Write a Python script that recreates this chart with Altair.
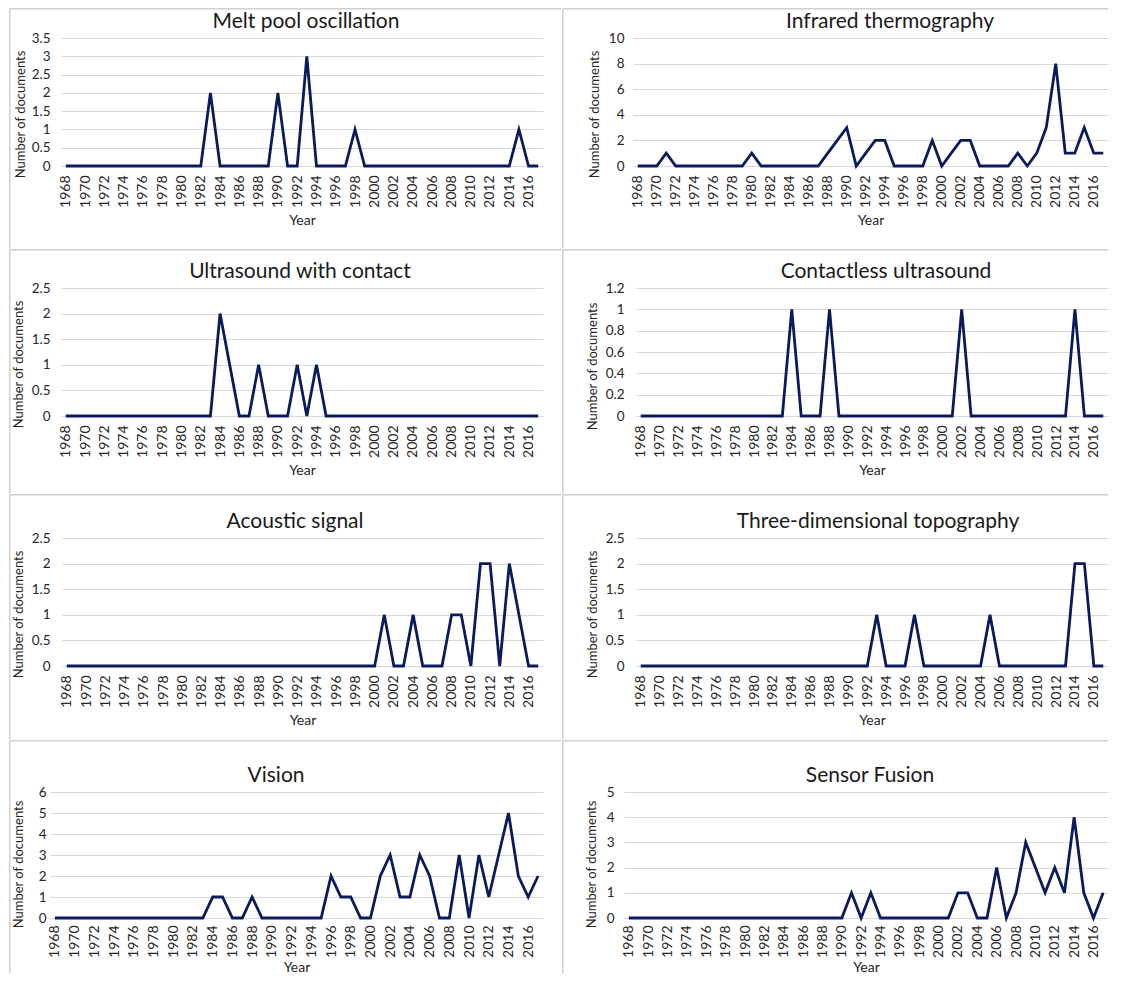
import altair as alt
import pandas as pd

# ---------------- data ----------------
YEARS = list(range(1968, 2018))
X_TICKS = list(range(1968, 2017, 2))

MELT_POOL = [0, 0, 0, 0, 0, 0, 0, 0, 0, 0,
             0, 0, 0, 0, 0, 2, 0, 0, 0, 0,
             0, 0, 2, 0, 0, 3, 0, 0, 0, 0,
             1, 0, 0, 0, 0, 0, 0, 0, 0, 0,
             0, 0, 0, 0, 0, 0, 0, 1, 0, 0]
INFRARED = [0, 0, 0, 1, 0, 0, 0, 0, 0, 0,
            0, 0, 1, 0, 0, 0, 0, 0, 0, 0,
            1, 2, 3, 0, 1, 2, 2, 0, 0, 0,
            0, 2, 0, 1, 2, 2, 0, 0, 0, 0,
            1, 0, 1, 3, 8, 1, 1, 3, 1, 1]
US_CONTACT = [0, 0, 0, 0, 0, 0, 0, 0, 0, 0,
              0, 0, 0, 0, 0, 0, 2, 1, 0, 0,
              1, 0, 0, 0, 1, 0, 1, 0, 0, 0,
              0, 0, 0, 0, 0, 0, 0, 0, 0, 0,
              0, 0, 0, 0, 0, 0, 0, 0, 0, 0]
US_CONTACTLESS = [0, 0, 0, 0, 0, 0, 0, 0, 0, 0,
                  0, 0, 0, 0, 0, 0, 1, 0, 0, 0,
                  1, 0, 0, 0, 0, 0, 0, 0, 0, 0,
                  0, 0, 0, 0, 1, 0, 0, 0, 0, 0,
                  0, 0, 0, 0, 0, 0, 1, 0, 0, 0]
ACOUSTIC = [0, 0, 0, 0, 0, 0, 0, 0, 0, 0,
            0, 0, 0, 0, 0, 0, 0, 0, 0, 0,
            0, 0, 0, 0, 0, 0, 0, 0, 0, 0,
            0, 0, 0, 1, 0, 0, 1, 0, 0, 0,
            1, 1, 0, 2, 2, 0, 2, 1, 0, 0]
TOPO_3D = [0, 0, 0, 0, 0, 0, 0, 0, 0, 0,
           0, 0, 0, 0, 0, 0, 0, 0, 0, 0,
           0, 0, 0, 0, 0, 1, 0, 0, 0, 1,
           0, 0, 0, 0, 0, 0, 0, 1, 0, 0,
           0, 0, 0, 0, 0, 0, 2, 2, 0, 0]
VISION = [0, 0, 0, 0, 0, 0, 0, 0, 0, 0,
          0, 0, 0, 0, 0, 0, 1, 1, 0, 0,
          1, 0, 0, 0, 0, 0, 0, 0, 2, 1,
          1, 0, 0, 2, 3, 1, 1, 3, 2, 0,
          0, 3, 0, 3, 1, 3, 5, 2, 1, 2]
SENSOR_FUSION = [0, 0, 0, 0, 0, 0, 0, 0, 0, 0,
                 0, 0, 0, 0, 0, 0, 0, 0, 0, 0,
                 0, 0, 0, 1, 0, 1, 0, 0, 0, 0,
                 0, 0, 0, 0, 1, 1, 0, 0, 2, 0,
                 1, 3, 2, 1, 2, 1, 4, 1, 0, 1]

Y_TICKS_MELT = [0, 0.5, 1, 1.5, 2, 2.5, 3, 3.5]
Y_TICKS_INFRARED = [0, 2, 4, 6, 8, 10]
Y_TICKS_2_5 = [0, 0.5, 1, 1.5, 2, 2.5]
Y_TICKS_1_2 = [0, 0.2, 0.4, 0.6, 0.8, 1, 1.2]
Y_TICKS_VISION = [0, 1, 2, 3, 4, 5, 6]
Y_TICKS_FUSION = [0, 1, 2, 3, 4, 5]

TITLES = ["Melt pool oscillation", "Infrared thermography",
          "Ultrasound with contact", "Contactless ultrasound",
          "Acoustic signal", "Three-dimensional topography",
          "Vision", "Sensor Fusion"]
SERIES = [MELT_POOL, INFRARED, US_CONTACT, US_CONTACTLESS,
          ACOUSTIC, TOPO_3D, VISION, SENSOR_FUSION]
YTICKS = [Y_TICKS_MELT, Y_TICKS_INFRARED, Y_TICKS_2_5, Y_TICKS_1_2,
          Y_TICKS_2_5, Y_TICKS_2_5, Y_TICKS_VISION, Y_TICKS_FUSION]

# ---------------- style / layout ----------------
FONT = "Lato"
NAVY = "#0b1a5c"
GRID = "#d9d9d9"
BORDER = "#d0d0d0"
TEXT = "#262626"

# per panel: L (plot left in box), W (plot width), T (plot top in box),
# H (plot height), title centre x rel. plot, y-title x / y rel. plot,
# y label padding, x label padding, x-title y, box width, box height
LAYOUT = [
    dict(L=52, W=482, T=30, H=128, tcx=245, ytx=-41, yty=76, lp=11, xlp=9, xty=54, BW=553, BH=241),
    dict(L=71, W=475, T=30, H=128, tcx=257, ytx=-39, yty=76, lp=9, xlp=9, xty=54, BW=547, BH=241),
    dict(L=52, W=482, T=39, H=128, tcx=239, ytx=-43, yty=76, lp=11, xlp=9, xty=54, BW=553, BH=245),
    dict(L=74, W=472, T=39, H=128, tcx=250, ytx=-44, yty=78, lp=12, xlp=9, xty=54, BW=547, BH=245),
    dict(L=53, W=481, T=44, H=128, tcx=233, ytx=-44, yty=76, lp=12, xlp=9, xty=54, BW=553, BH=246),
    dict(L=74, W=472, T=44, H=128, tcx=242, ytx=-44, yty=76, lp=12, xlp=9, xty=54, BW=547, BH=246),
    dict(L=41, W=493, T=52, H=126, tcx=226, ytx=-32, yty=72, lp=4, xlp=7, xty=49, BW=553, BH=234),
    dict(L=62, W=484, T=52, H=126, tcx=246, ytx=-33, yty=72, lp=10, xlp=7, xty=49, BW=547, BH=234),
]

SW = 1.5          # border stroke width
HS = SW / 2       # inset so the stroke stays inside the panel box


def panel(title, values, yticks, p):
    L, W, T, H, BW, BH = p["L"], p["W"], p["T"], p["H"], p["BW"], p["BH"]
    df = pd.DataFrame({"Year": YEARS, "Docs": values})
    one = pd.DataFrame({"t": [title]})

    x = alt.X("Year:Q",
              scale=alt.Scale(domain=[1967.5, 2017.5], nice=False, zero=False),
              axis=alt.Axis(values=X_TICKS, format="d", labelAngle=270,
                            title="Year", grid=False, ticks=False,
                            domain=True, domainColor=GRID, domainWidth=1,
                            labelPadding=p["xlp"], labelFontSize=14,
                            titleY=p["xty"], titleBaseline="middle",
                            labelOverlap=False, labelFlush=False))
    y = alt.Y("Docs:Q",
              scale=alt.Scale(domain=[0, yticks[-1]], nice=False, zero=True),
              axis=alt.Axis(values=yticks, format="~r",
                            title="Number of documents", grid=True,
                            gridColor=GRID, gridWidth=1, domain=False,
                            ticks=False, labelPadding=p["lp"], labelFontSize=13.5,
                            titleX=p["ytx"], titleY=p["yty"],
                            titleBaseline="middle", titleFontSize=13))

    line = alt.Chart(df).mark_line(color=NAVY, strokeWidth=2.8).encode(x=x, y=y)

    # invisible box that fixes the panel's outer size
    box = alt.Chart(one).mark_rect(opacity=0).encode(
        x=alt.value(-L), x2=alt.value(BW - L),
        y=alt.value(-T), y2=alt.value(BH - T))
    top_edge = alt.Chart(one).mark_rule(color=BORDER, strokeWidth=SW).encode(
        x=alt.value(-L + HS), x2=alt.value(BW - L - HS), y=alt.value(-T + HS))
    left_edge = alt.Chart(one).mark_rule(color=BORDER, strokeWidth=SW).encode(
        x=alt.value(-L + HS), y=alt.value(-T + HS), y2=alt.value(BH - T - HS))

    ttl = alt.Chart(one).mark_text(font=FONT, fontSize=21, color="#1a1a1a",
                                   align="center", baseline="alphabetic").encode(
        text="t:N", x=alt.value(p["tcx"]), y=alt.value(-10))

    return alt.layer(box, top_edge, left_edge, line, ttl).properties(width=W, height=H)


def spacer():
    one = pd.DataFrame({"t": [""]})
    return alt.Chart(one).mark_rect(opacity=0).encode(
        x=alt.value(0), x2=alt.value(1), y=alt.value(0), y2=alt.value(1)
    ).properties(width=1, height=1)


panels = [panel(t, s, yt, p) for t, s, yt, p in zip(TITLES, SERIES, YTICKS, LAYOUT)]

rows = [alt.hconcat(spacer(), panels[i], panels[i + 1], spacing=0)
        for i in range(0, 8, 2)]

chart = alt.vconcat(*rows, spacing=0).properties(
    padding=0, background="white"
).configure_view(stroke=None).configure_axis(
    labelFont=FONT, titleFont=FONT, titleFontSize=14,
    titleFontWeight="normal", labelColor=TEXT, titleColor=TEXT
)

chart.save("out.html", embed_options={"renderer": "svg", "actions": False})
